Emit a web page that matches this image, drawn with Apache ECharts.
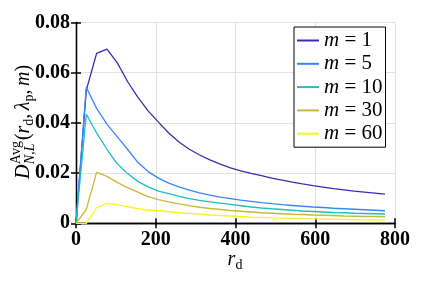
<!DOCTYPE html>
<html>
<head>
<meta charset="utf-8">
<script src="https://cdn.jsdelivr.net/npm/echarts@6/dist/echarts.min.js"></script>
<style>html,body{margin:0;padding:0;background:#fff;}#c{width:436px;height:281px;}</style>
</head>
<body>
<div id="c"></div>
<script>
// ---- data ----
const rd = [0, 25.8, 51.7, 77.5, 103.3, 129.2, 155, 180.8, 206.7, 232.5, 258.3, 284.2, 310, 335.8, 361.7, 387.5,
            413.3, 439.2, 465, 490.8, 516.7, 542.5, 568.3, 594.2, 620, 645.8, 671.7, 697.5, 723.3, 749.2, 775];
const m1  = [0, 0.0530, 0.0677, 0.0694, 0.0640, 0.0565, 0.0503, 0.0448, 0.0403, 0.0360, 0.0324, 0.0295, 0.0272, 0.0253, 0.0236, 0.0221,
             0.0209, 0.0199, 0.0190, 0.0180, 0.0172, 0.0164, 0.0157, 0.0150, 0.0144, 0.0138, 0.0133, 0.0128, 0.0124, 0.0120, 0.0116];
const m5  = [0, 0.0542, 0.0458, 0.0395, 0.0345, 0.0295, 0.0243, 0.0206, 0.0180, 0.0160, 0.0145, 0.0132, 0.0121, 0.0112, 0.0104, 0.0098,
             0.0092, 0.0087, 0.0082, 0.0078, 0.0074, 0.0071, 0.0068, 0.0065, 0.0063, 0.0060, 0.0058, 0.0056, 0.0054, 0.0052, 0.0050];
const m10 = [0, 0.0435, 0.0360, 0.0295, 0.0238, 0.0198, 0.0167, 0.0145, 0.0128, 0.0118, 0.0107, 0.0098, 0.0091, 0.0085, 0.0080, 0.0075,
             0.0070, 0.0065, 0.0061, 0.0058, 0.0055, 0.0052, 0.0049, 0.0047, 0.0045, 0.0043, 0.0042, 0.0040, 0.0039, 0.0038, 0.0037];
const m30 = [0, 0.0055, 0.0203, 0.0187, 0.0163, 0.0142, 0.0124, 0.0106, 0.0094, 0.0085, 0.0077, 0.0070, 0.0064, 0.0059, 0.0055, 0.0051,
             0.0048, 0.0045, 0.0042, 0.0040, 0.0038, 0.0036, 0.0035, 0.0033, 0.0032, 0.0031, 0.0029, 0.0028, 0.0027, 0.0027, 0.0026];
const m60 = [0, 0, 0.0062, 0.0079, 0.0074, 0.0066, 0.0058, 0.0053, 0.0050, 0.0046, 0.0042, 0.0039, 0.0036, 0.0033, 0.0031, 0.0029,
             0.0027, 0.0025, 0.0024, 0.0022, 0.0021, 0.0020, 0.0019, 0.0018, 0.0017, 0.0016, 0.0016, 0.0015, 0.0014, 0.0014, 0.0013];
const mValues = ['1', '5', '10', '30', '60'];
const seriesValues = [m1, m5, m10, m30, m60];
const colors = ['#3f2bb0', '#3a86f7', '#1ebfc0', '#c8b83c', '#f6f524'];
const xTicks = [0, 200, 400, 600, 800];
const yTicks = [0, 0.02, 0.04, 0.06, 0.08];

// ---- helpers for the math-style axis titles ----
const SERIF = 'Liberation Serif';
const cx = document.createElement('canvas').getContext('2d');
function tw(t, size, italic) { cx.font = (italic ? 'italic ' : '') + size + 'px ' + SERIF; return cx.measureText(t).width; }
function piece(t, x, y, size, italic) {
  return { type: 'text', x: x, y: y, style: { text: t, fontFamily: SERIF, fontSize: size, fontStyle: italic ? 'italic' : 'normal',
           fill: '#000', align: 'left', verticalAlign: 'middle' } };
}
const BIG = 20, SMALL = 14;
// y-axis title: D^{Avg}_{N,L}(r_d, λ_p, m)
const yParts = [];
let px = 0;
yParts.push(piece('D', px, 0, BIG, true)); px += tw('D', BIG, true) + 0.5;
yParts.push(piece('Avg', px, -8, SMALL, false));
yParts.push(piece('N,L', px, 6, SMALL, true));
px += Math.max(tw('Avg', SMALL, false), tw('N,L', SMALL, true)) + 1;
const seq = [['(', BIG, false, 0, 0], ['r', BIG, true, 0, 0], ['d', SMALL, false, 5, 0], [',', BIG, false, 0, 3.5], ['λ', BIG, true, 0, 0],
             ['p', SMALL, false, 5, 0], [',', BIG, false, 0, 3.5], ['m', BIG, true, 0, 0], [')', BIG, false, 0, 0]];
seq.forEach(s => { yParts.push(piece(s[0], px, s[3], s[1], s[2])); px += tw(s[0], s[1], s[2]) + s[4]; });
const yTotal = px;
// x-axis title: r_d
const xw = tw('r', BIG, true) + tw('d', SMALL, false);
const xParts = [piece('r', 0, 0, BIG, true), piece('d', tw('r', BIG, true), 5, SMALL, false)];

const chart = echarts.init(document.getElementById('c'));
const axisLineStyle = { color: '#000', width: 1.3 };
const tickStyle = { show: true, inside: true, length: 5, lineStyle: { color: '#000', width: 1.5 } };
const labelStyle = { fontFamily: SERIF, fontWeight: 'bold', fontSize: 20, color: '#000' };

chart.setOption({
  animation: false,
  backgroundColor: '#fff',
  grid: { left: 76, top: 22.5, right: 41, bottom: 57.7, containLabel: false },
  legend: {
    orient: 'vertical', left: 294, top: 27, width: 94,
    backgroundColor: '#fff', borderColor: '#000', borderWidth: 1, borderRadius: 0,
    padding: [3, 3, 3, 3], itemGap: 2.3, itemWidth: 22, itemHeight: 2, icon: 'rect',
    formatter: function (name) { return '{i|m}{t| = ' + name.split('= ')[1] + '}'; },
    textStyle: { fontFamily: SERIF, fontSize: 21, color: '#000', lineHeight: 20,
      rich: { i: { fontFamily: SERIF, fontSize: 21, fontStyle: 'italic', lineHeight: 20 },
              t: { fontFamily: SERIF, fontSize: 21, lineHeight: 20 } } }
  },
  xAxis: [{
    type: 'value', position: 'bottom', min: xTicks[0], max: xTicks[xTicks.length - 1], interval: 200,
    axisLine: { show: true, lineStyle: axisLineStyle }, axisTick: tickStyle,
    axisLabel: Object.assign({ margin: 7 }, labelStyle),
    splitLine: { show: true, lineStyle: { color: '#e2e2e2', width: 1 } }
  }, {
    type: 'value', position: 'top', min: xTicks[0], max: xTicks[xTicks.length - 1], interval: 200,
    axisLine: { show: true, lineStyle: axisLineStyle }, axisTick: tickStyle,
    axisLabel: { show: false }, splitLine: { show: false }
  }],
  yAxis: [{
    type: 'value', position: 'left', min: yTicks[0], max: yTicks[yTicks.length - 1], interval: 0.02,
    axisLine: { show: true, lineStyle: axisLineStyle }, axisTick: tickStyle,
    axisLabel: Object.assign({ margin: 6, formatter: v => (Math.abs(v) < 1e-9 ? '0' : v.toFixed(2)) }, labelStyle),
    splitLine: { show: true, lineStyle: { color: '#e2e2e2', width: 1 } }
  }, {
    type: 'value', position: 'right', min: yTicks[0], max: yTicks[yTicks.length - 1], interval: 0.02,
    axisLine: { show: true, lineStyle: axisLineStyle }, axisTick: tickStyle,
    axisLabel: { show: false }, splitLine: { show: false }
  }],
  series: seriesValues.map((vals, k) => ({
    name: 'm = ' + mValues[k], type: 'line', xAxisIndex: 0, yAxisIndex: 0,
    data: rd.map((x, i) => [x, vals[i]]),
    showSymbol: false, symbol: 'none', smooth: false,
    lineStyle: { color: colors[k], width: 1.3 }, itemStyle: { color: colors[k] }
  })),
  graphic: [
    { type: 'group', x: 24, y: 122 + yTotal / 2, rotation: Math.PI / 2, children: yParts },
    { type: 'group', x: 235 - xw / 2, y: 260, children: xParts }
  ]
});
</script>
</body>
</html>
